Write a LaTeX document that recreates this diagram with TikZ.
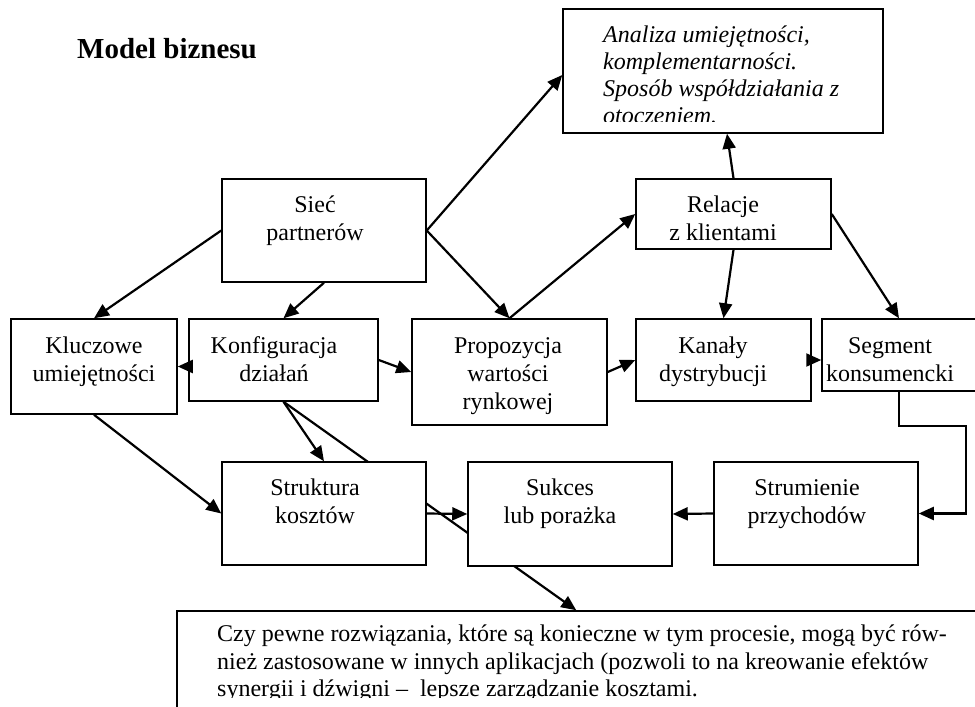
\documentclass[tikz,border=0pt]{standalone}
\usepackage{fontspec}
\setmainfont{Liberation Serif}
\usetikzlibrary{arrows.meta,calc,backgrounds}
\begin{document}
\begin{tikzpicture}[x=1pt,y=-1pt,
  box/.style={draw, line width=1.5pt, fill=white, rectangle, inner sep=0pt},
  lbl/.style={anchor=base, inner sep=0pt, font=\fontsize{24}{28}\selectfont},
  arr/.style={line width=2.2pt, -{Triangle[length=15pt,width=13pt]}}]
\useasboundingbox (0,0) rectangle (975,707);
\clip (0,0) rectangle (975,707);

% title
\node[anchor=base west, inner sep=0pt, font=\fontsize{29}{34}\selectfont\bfseries] (title) at (77,58) {Model biznesu};

% boxes
\node[box, minimum width=320, minimum height=124] (anal) at (723,71) {};
\node[box, minimum width=204, minimum height=103] (siec) at (324,230.5) {};
\node[box, minimum width=195, minimum height=70] (rel) at (733.5,214) {};
\node[box, minimum width=166, minimum height=95] (klucz) at (94,366.5) {};
\node[box, minimum width=189, minimum height=82] (konf) at (283.5,360) {};
\node[box, minimum width=195, minimum height=106] (prop) at (509.5,372) {};
\node[box, minimum width=175, minimum height=82] (kan) at (723.5,360) {};
\node[box, minimum width=154, minimum height=72] (seg) at (899,355) {};
\node[box, minimum width=204, minimum height=103] (strk) at (324,513.5) {};
\node[box, minimum width=204, minimum height=104] (suk) at (570,514) {};
\node[box, minimum width=204, minimum height=103] (strm) at (816,513.5) {};
\node[box, minimum width=823, minimum height=129] (bottom) at (588.5,675.5) {};

% labels
\node[lbl] (siecT) at (315,212) {\begin{tabular}[t]{@{}c@{}}Sieć\\partnerów\end{tabular}};
\node[lbl] (relT) at (723,212) {\begin{tabular}[t]{@{}c@{}}Relacje\\z klientami\end{tabular}};
\node[lbl] (kluczT) at (94,353) {\begin{tabular}[t]{@{}c@{}}Kluczowe\\umiejętności\end{tabular}};
\node[lbl] (konfT) at (274,353) {\begin{tabular}[t]{@{}c@{}}Konfiguracja\\działań\end{tabular}};
\node[lbl] (propT) at (508,353) {\begin{tabular}[t]{@{}c@{}}Propozycja\\wartości\\rynkowej\end{tabular}};
\node[lbl] (kanT) at (713,353) {\begin{tabular}[t]{@{}c@{}}Kanały\\dystrybucji\end{tabular}};
\node[lbl] (segT) at (890,353) {\begin{tabular}[t]{@{}c@{}}Segment\\konsumencki\end{tabular}};
\node[lbl] (strkT) at (315,495) {\begin{tabular}[t]{@{}c@{}}Struktura\\kosztów\end{tabular}};
\node[lbl] (sukT) at (560,495) {\begin{tabular}[t]{@{}c@{}}Sukces\\lub porażka\end{tabular}};
\node[lbl] (strmT) at (807,495) {\begin{tabular}[t]{@{}c@{}}Strumienie\\przychodów\end{tabular}};

\begin{scope}
\clip (563,9) rectangle (883,121.5);
\node[anchor=base west, inner sep=0pt, font=\fontsize{24}{27.3}\selectfont\itshape] (analT) at (603,42)
 {\begin{tabular}[t]{@{}l@{}}Analiza umiejętności,\\komplementarności.\\Sposób współdziałania z\\otoczeniem.\end{tabular}};
\end{scope}

\begin{scope}
\clip (177,611) rectangle (975,697);
\node[anchor=base west, inner sep=0pt, font=\fontsize{24}{27.6}\selectfont] (bottomT) at (217,641.5)
 {\begin{tabular}[t]{@{}l@{}}Czy pewne rozwiązania, które są konieczne w tym procesie, mogą być rów-\\nież zastosowane w innych aplikacjach (pozwoli to na kreowanie efektów\\synergii i dźwigni –\ \ lepsze zarządzanie kosztami.\end{tabular}};
\end{scope}

% long diagonal behind boxes
\begin{pgfonlayer}{background}
\fill[white] (0,0) rectangle (975,707);
\draw[arr] (konf.south) -- ($(bottom.north west)+(400,0)$);
\end{pgfonlayer}

% connectors
\draw[arr] (siec.west) -- (klucz.north);
\draw[arr] (siec.south) -- (konf.north);
\draw[arr] (siec.east) -- (prop.north);
\draw[arr] (prop.north) -- (rel.west);
\draw[arr] (siec.east) -- ([yshift=-4pt]anal.west);
\draw[arr] (rel.north) -- ([xshift=4pt]anal.south);
\draw[arr] (rel.south) -- (kan.north);
\draw[arr] (rel.east) -- (seg.north);
\draw[arr] (konf.west |- klucz.east) -- (klucz.east);
\draw[arr] (konf.east) -- (prop.west);
\draw[arr] (prop.east) -- (kan.west);
\draw[arr] (kan.east) -- (seg.west |- kan.east);
\draw[arr] (klucz.south) -- (strk.west);
\draw[arr] (konf.south) -- (strk.north);
\draw[arr] (strk.east) -- (suk.west);
\draw[arr] (strm.west) -- (suk.east);
\coordinate (c1) at (966,426);
\draw[arr] (seg.south) |- (c1) |- (strm.east);
\end{tikzpicture}
\end{document}
